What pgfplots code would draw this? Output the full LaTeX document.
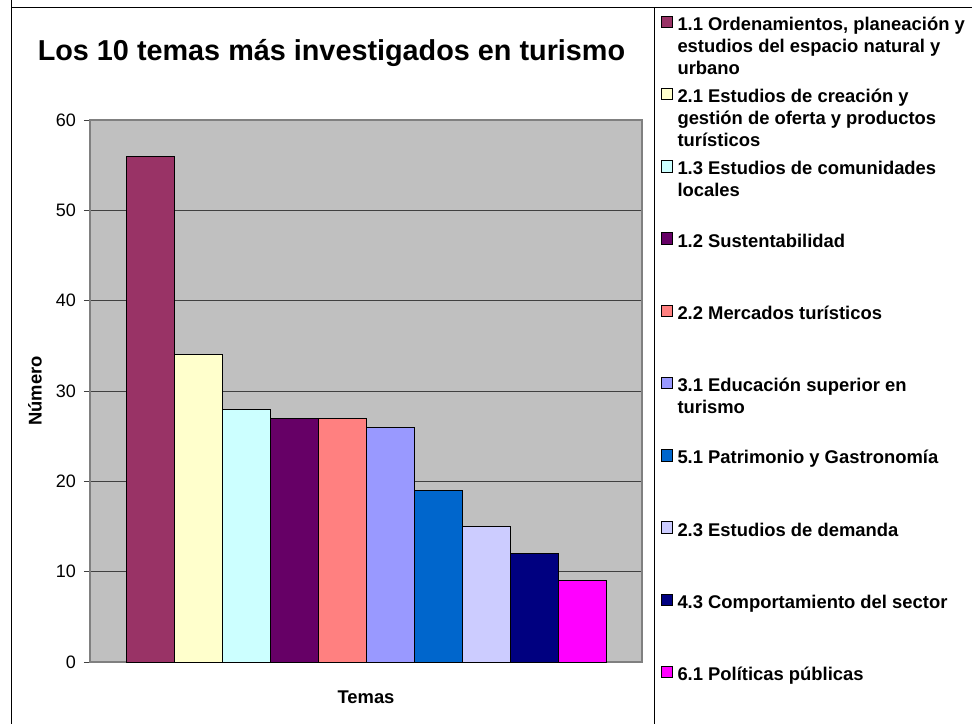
\documentclass[border=0pt]{standalone}
\usepackage{fontspec}
\setmainfont{Liberation Sans}
\usepackage{pgfplots}
\pgfplotsset{compat=1.18}
\definecolor{c1}{HTML}{993366}
\definecolor{c2}{HTML}{FFFFCC}
\definecolor{c3}{HTML}{CCFFFF}
\definecolor{c4}{HTML}{660066}
\definecolor{c5}{HTML}{FF8080}
\definecolor{c6}{HTML}{9999FF}
\definecolor{c7}{HTML}{0066CC}
\definecolor{c8}{HTML}{CCCCFF}
\definecolor{c9}{HTML}{000080}
\definecolor{c10}{HTML}{FF00FF}
\definecolor{plotgray}{HTML}{C0C0C0}
\definecolor{axisgray}{HTML}{808080}
\definecolor{gridc}{HTML}{404040}
\newcommand{\lent}[1]{\raisebox{0pt}[18pt][0pt]{\parbox[t]{300pt}{\raggedright\fontsize{18.4}{22}\selectfont\bfseries\rule{0pt}{18pt}#1}}}
\begin{document}
\begin{tikzpicture}[x=1pt,y=1pt]
\useasboundingbox (0,0) rectangle (972,723);
\begin{axis}[
  at={(90pt,61pt)}, anchor=south west,
  scale only axis, width=552pt, height=542pt,
  xmin=-1.25, xmax=10.25, ymin=0, ymax=60,
  ytick={0,10,...,60}, xtick=\empty,
  ybar, bar width=1, bar shift=0pt,
  axis background/.style={fill=plotgray},
  ymajorgrids, grid style={gridc, line width=1pt},
  axis line style={draw=axisgray, line width=1.5pt},
  ytick pos=left, tick align=outside, major tick length=6pt,
  tick style={gridc, line width=1pt},
  /pgf/number format/assume math mode=true,
  yticklabel style={font=\fontsize{18}{18}\selectfont, anchor=east, inner sep=0pt, xshift=-8pt},
  every axis y label/.style={at={(axis description cs:0,0.5)}, xshift=-55pt, rotate=90, anchor=center},
  every axis x label/.style={at={(axis description cs:0.5,0)}, anchor=center, yshift=-35pt},
  ylabel={\fontsize{18.4}{20}\selectfont\bfseries Número},
  xlabel={\fontsize{18.4}{20}\selectfont\bfseries Temas},
  legend cell align=left,
  legend style={at={(1.03442,1.20185)}, anchor=north west, draw=none, fill=none,
    inner sep=0pt, outer sep=0pt, row sep=51pt, column sep=5pt,
    nodes={inner sep=0pt, outer sep=0pt}},
  legend image code/.code={\path[draw=none,fill=none] (0pt,0pt) rectangle (11.5pt,11.5pt);\draw[#1,draw=black,line width=1pt,overlay] (0pt,-5.5pt) rectangle (11.5pt,6pt);},
]
\addplot[fill=c1, draw=black, line width=1pt] coordinates {(0,56)};
\addlegendentry{\lent{1.1 Ordenamientos, planeación y\\estudios del espacio natural y\\urbano}}
\addplot[fill=c2, draw=black, line width=1pt] coordinates {(1,34)};
\addlegendentry{\lent{2.1 Estudios de creación y\\gestión de oferta y productos\\turísticos}}
\addplot[fill=c3, draw=black, line width=1pt] coordinates {(2,28)};
\addlegendentry{\lent{1.3 Estudios de comunidades\\locales}}
\addplot[fill=c4, draw=black, line width=1pt] coordinates {(3,27)};
\addlegendentry{\lent{1.2 Sustentabilidad}}
\addplot[fill=c5, draw=black, line width=1pt] coordinates {(4,27)};
\addlegendentry{\lent{2.2 Mercados turísticos}}
\addplot[fill=c6, draw=black, line width=1pt] coordinates {(5,26)};
\addlegendentry{\lent{3.1 Educación superior en\\turismo}}
\addplot[fill=c7, draw=black, line width=1pt] coordinates {(6,19)};
\addlegendentry{\lent{5.1 Patrimonio y Gastronomía}}
\addplot[fill=c8, draw=black, line width=1pt] coordinates {(7,15)};
\addlegendentry{\lent{2.3 Estudios de demanda}}
\addplot[fill=c9, draw=black, line width=1pt] coordinates {(8,12)};
\addlegendentry{\lent{4.3 Comportamiento del sector}}
\addplot[fill=c10, draw=black, line width=1pt] coordinates {(9,9)};
\addlegendentry{\lent{6.1 Políticas públicas}}
\end{axis}
\node[font=\fontsize{28.8}{30}\selectfont\bfseries, anchor=center] at (331.5,670) {Los 10 temas más investigados en turismo};
\draw[black, line width=1pt] (11,730) -- (11,715) -- (980,715);
\draw[black, line width=1pt] (11,715) -- (11,-10);
\draw[black, line width=1pt] (654,715) -- (654,-10);
\end{tikzpicture}
\end{document}
